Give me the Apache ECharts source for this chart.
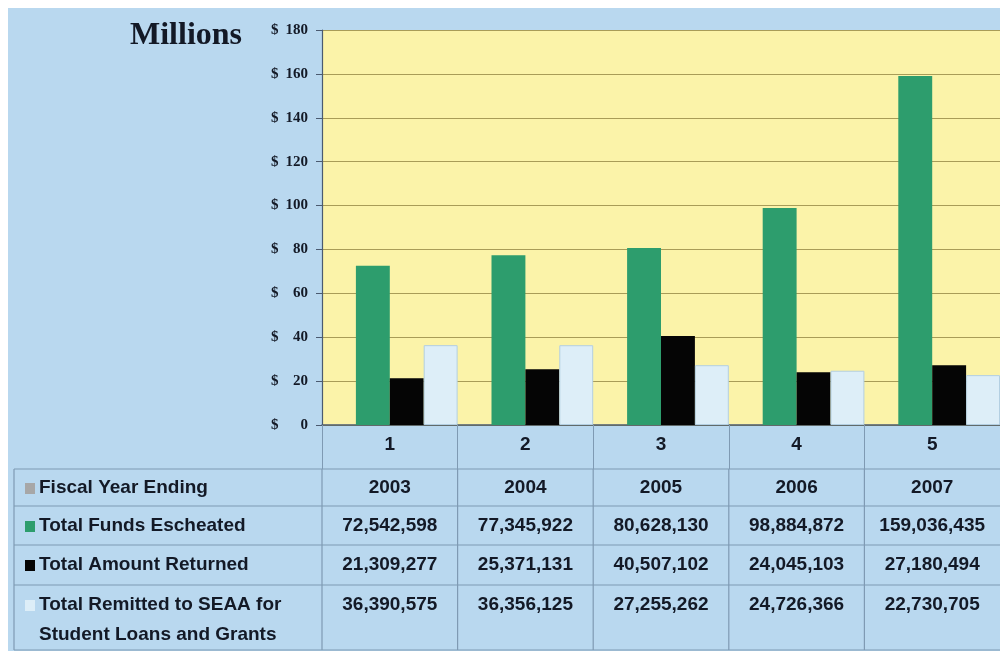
<!DOCTYPE html>
<html>
<head>
<meta charset="utf-8">
<script src="https://cdn.jsdelivr.net/npm/echarts@6/dist/echarts.min.js"></script>
<style>
  html, body { margin: 0; padding: 0; background: #ffffff; }
  #chart { width: 1000px; height: 653px; }
</style>
</head>
<body>
<div id="chart"></div>
<script>
// Categories and fiscal years
const categories = ['1', '2', '3', '4', '5'];
const fiscalYears = ['2003', '2004', '2005', '2006', '2007'];

// Dollar amounts per fiscal year
const fundsEscheated = [72542598, 77345922, 80628130, 98884872, 159036435];
const amountReturned = [21309277, 25371131, 40507102, 24045103, 27180494];
const remittedSEAA = [36390575, 36356125, 27255262, 24726366, 22730705];

// Value axis ticks (millions of dollars)
const yMin = 0, yMax = 180, yStep = 20;

// Table row labels
const rowLabels = [
  ['Fiscal Year Ending'],
  ['Total Funds Escheated'],
  ['Total Amount Returned'],
  ['Total Remitted to SEAA for', 'Student Loans and Grants']
];

const COLORS = {
  page: '#b9d8ef',
  plot: '#fbf3a9',
  grid: '#a89c58',
  axis: '#4a5a70',
  tableLine: '#7f9ab3',
  text: '#131926',
  green: '#2d9d6d',
  black: '#050505',
  light: '#ddeef8',
  gray: '#a7a7a7'
};

const toMillions = arr => arr.map(v => v / 1e6);
const fmt = v => v.toLocaleString('en-US');

const chart = echarts.init(document.getElementById('chart'), null, { renderer: 'canvas' });

const barBase = { type: 'bar', barGap: '0%', barCategoryGap: '0%' };

chart.setOption({
  backgroundColor: '#ffffff',
  animation: false,
  grid: {
    left: 322, top: 30, width: 685, height: 395,
    show: true, backgroundColor: COLORS.plot, borderWidth: 0
  },
  xAxis: {
    type: 'category',
    data: categories,
    boundaryGap: true,
    axisLine: { show: true, lineStyle: { color: COLORS.axis, width: 1.5 } },
    axisTick: { show: true, length: 44, lineStyle: { color: COLORS.tableLine, width: 1 } },
    axisLabel: {
      margin: 10,
      fontFamily: 'Liberation Sans, Arial, sans-serif',
      fontWeight: 'bold', fontSize: 19, color: COLORS.text
    },
    splitLine: { show: false }
  },
  yAxis: {
    type: 'value',
    min: yMin, max: yMax, interval: yStep,
    axisLine: { show: true, lineStyle: { color: COLORS.axis, width: 1.2 } },
    axisTick: { show: true, inside: false, length: 6, lineStyle: { color: COLORS.axis } },
    splitLine: { show: true, lineStyle: { color: COLORS.grid, width: 1 } },
    axisLabel: {
      margin: 14,
      formatter: v => '{s|$}{n|' + v + '}',
      rich: {
        s: { width: 10, align: 'left', fontFamily: 'Liberation Serif, Times New Roman, serif',
             fontWeight: 'bold', fontSize: 15, color: COLORS.text },
        n: { width: 27, align: 'right', fontFamily: 'Liberation Serif, Times New Roman, serif',
             fontWeight: 'bold', fontSize: 15, color: COLORS.text }
      }
    }
  },
  series: [
    // empty leading slot: keeps each bar group against the right edge of its category
    Object.assign({}, barBase, { name: 'spacer', data: [], silent: true }),
    Object.assign({}, barBase, { name: 'Total Funds Escheated', data: toMillions(fundsEscheated),
      itemStyle: { color: COLORS.green } }),
    Object.assign({}, barBase, { name: 'Total Amount Returned', data: toMillions(amountReturned),
      itemStyle: { color: COLORS.black } }),
    Object.assign({}, barBase, { name: 'Total Remitted to SEAA', data: toMillions(remittedSEAA),
      itemStyle: { color: COLORS.light, borderColor: '#b3cfe2', borderWidth: 1 } })
  ]
});

// Data table below the chart, columns aligned with the category axis
const xs = categories.map((c, i) => chart.convertToPixel({ xAxisIndex: 0 }, i));
const half = (xs[1] - xs[0]) / 2;
const rowLines = [469, 506, 545, 585, 650];
const rowCenters = [488, 526, 565, 605];
const tableLeft = 14;
const textFont = { fontFamily: 'Liberation Sans, Arial, sans-serif', fontWeight: 'bold', fontSize: 19 };

const elements = [];
elements.push({ type: 'rect', z: -10, silent: true,
  shape: { x: 8, y: 8, width: 992, height: 643 }, style: { fill: COLORS.page } });

rowLines.forEach(y => elements.push({ type: 'line', silent: true,
  shape: { x1: tableLeft, y1: y, x2: 1000, y2: y },
  style: { stroke: COLORS.tableLine, lineWidth: 1.2 } }));

elements.push({ type: 'line', silent: true,
  shape: { x1: tableLeft, y1: rowLines[0], x2: tableLeft, y2: rowLines[4] },
  style: { stroke: COLORS.tableLine, lineWidth: 1.2 } });
xs.forEach(x => elements.push({ type: 'line', silent: true,
  shape: { x1: x - half, y1: rowLines[0], x2: x - half, y2: rowLines[4] },
  style: { stroke: COLORS.tableLine, lineWidth: 1.2 } }));

const swatches = [COLORS.gray, COLORS.green, COLORS.black, COLORS.light];
rowLabels.forEach((lines, r) => {
  elements.push({ type: 'rect', silent: true,
    shape: { x: 25, y: rowCenters[r] - 5, width: 10, height: 11 },
    style: { fill: swatches[r] } });
  lines.forEach((t, k) => elements.push({ type: 'text', silent: true,
    style: Object.assign({ x: 39, y: rowCenters[r] + k * 30, text: t, fill: COLORS.text,
      verticalAlign: 'middle', align: 'left' }, textFont) }));
});

const tableRows = [fiscalYears, fundsEscheated.map(fmt), amountReturned.map(fmt), remittedSEAA.map(fmt)];
tableRows.forEach((row, r) => row.forEach((t, i) => elements.push({ type: 'text', silent: true,
  style: Object.assign({ x: xs[i], y: rowCenters[r], text: t, fill: COLORS.text,
    align: 'center', verticalAlign: 'middle' }, textFont) })));

elements.push({ type: 'text', silent: true,
  style: { x: 130, y: 36, text: 'Millions', fill: COLORS.text, verticalAlign: 'middle',
    fontFamily: 'Liberation Serif, Times New Roman, serif', fontWeight: 'bold', fontSize: 32 } });

chart.setOption({ graphic: { elements: elements } });
</script>
</body>
</html>
